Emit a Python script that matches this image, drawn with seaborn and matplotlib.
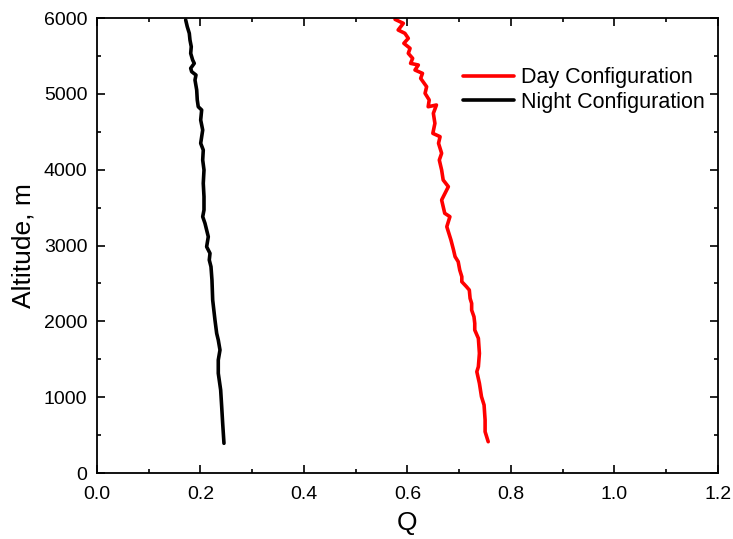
import matplotlib
matplotlib.use("Agg")
import matplotlib.pyplot as plt
import seaborn as sns
import pandas as pd
from matplotlib.ticker import MultipleLocator

# Day configuration (Q vs altitude, m), read from bottom to top
day_alt = [413, 545, 699, 897, 1007, 1183, 1336, 1402, 1578, 1776, 1886, 1974, 2061, 2149,
           2237, 2303, 2413, 2457, 2523, 2589, 2677, 2787, 2853, 2941, 3073, 3248, 3380,
           3425, 3600, 3776, 3864, 3996, 4127, 4216, 4348, 4435, 4479, 4611, 4743, 4853,
           4830, 4919, 5007, 5094, 5204, 5270, 5314, 5380, 5402, 5468, 5534, 5600, 5666,
           5732, 5798, 5842, 5930, 5982]
day_q = [0.756, 0.750, 0.750, 0.748, 0.743, 0.739, 0.734, 0.737, 0.739, 0.737, 0.730, 0.730,
         0.7285, 0.724, 0.724, 0.721, 0.7195, 0.714, 0.705, 0.705, 0.701, 0.698, 0.692,
         0.689, 0.684, 0.676, 0.682, 0.672, 0.666, 0.679, 0.669, 0.666, 0.6615, 0.666,
         0.660, 0.663, 0.649, 0.653, 0.650, 0.656, 0.640, 0.642, 0.634, 0.637, 0.6255,
         0.629, 0.6145, 0.621, 0.606, 0.610, 0.6016, 0.605, 0.593, 0.6016, 0.595, 0.582,
         0.592, 0.576]

# Night configuration
night_alt = [392, 655, 874, 1095, 1315, 1490, 1622, 1754, 1842, 2018, 2281, 2545, 2721,
             2809, 2897, 2984, 3116, 3293, 3380, 3468, 3644, 3820, 3996, 4127, 4259, 4348,
             4523, 4655, 4787, 4830, 4919, 5051, 5182, 5248, 5292, 5337, 5402, 5446, 5534,
             5622, 5710, 5798, 5885, 5974]
night_q = [0.2454, 0.2429, 0.2410, 0.2390, 0.2344, 0.2344, 0.2377, 0.2344, 0.2313, 0.2280,
           0.2236, 0.2222, 0.2203, 0.2170, 0.2184, 0.2119, 0.2151, 0.2087, 0.2043, 0.2068,
           0.2068, 0.2054, 0.2068, 0.2043, 0.2054, 0.2004, 0.2043, 0.2004, 0.2023, 0.1957,
           0.1938, 0.1927, 0.1894, 0.1913, 0.1830, 0.1811, 0.1880, 0.1849, 0.1811, 0.1822,
           0.1797, 0.1784, 0.1745, 0.1714]

series_names = ["Day Configuration", "Night Configuration"]

df = pd.concat([
    pd.DataFrame({"Q": day_q, "alt": day_alt, "series": series_names[0]}),
    pd.DataFrame({"Q": night_q, "alt": night_alt, "series": series_names[1]}),
], ignore_index=True)

sns.set_style("ticks")
plt.rcParams["font.family"] = ["Liberation Sans", "DejaVu Sans"]
plt.rcParams["text.color"] = "black"
plt.rcParams["axes.labelcolor"] = "black"
plt.rcParams["xtick.color"] = "black"
plt.rcParams["ytick.color"] = "black"

fig = plt.figure(figsize=(7.33, 5.39), dpi=100)
ax = fig.add_axes([0.1323, 0.1224, 0.9795 - 0.1323, 0.9666 - 0.1224])

sns.lineplot(data=df, x="Q", y="alt", hue="series", sort=False, estimator=None,
             palette={series_names[0]: "#ff0000", series_names[1]: "#000000"},
             linewidth=2.6, ax=ax)

ax.set_xlim(0, 1.2)
ax.set_ylim(0, 6000)
ax.xaxis.set_major_locator(MultipleLocator(0.2))
ax.xaxis.set_minor_locator(MultipleLocator(0.1))
ax.yaxis.set_major_locator(MultipleLocator(1000))
ax.yaxis.set_minor_locator(MultipleLocator(500))
ax.set_xticks(ax.get_xticks())
ax.set_xticklabels([f"{v:.1f}" for v in ax.get_xticks()])
ax.set_xlim(0, 1.2)
ax.tick_params(which="both", direction="in", top=True, right=True, width=1.2,
               colors="black", labelcolor="black")
ax.tick_params(which="major", length=6, labelsize=14)
ax.tick_params(axis="x", which="major", pad=9)
ax.tick_params(axis="y", which="major", pad=7)
ax.tick_params(which="minor", length=3)
for s in ax.spines.values():
    s.set_linewidth(1.3)
    s.set_color("black")

ax.set_xlabel("Q", fontsize=19, labelpad=6, color="black")
ax.set_ylabel("Altitude, m", fontsize=19, labelpad=6, color="black")

leg = ax.legend(loc="upper right", bbox_to_anchor=(1.0, 0.92), frameon=False, fontsize=15.5,
                handlelength=2.4, handletextpad=0.33, labelspacing=0.15, borderaxespad=0.2)
for line in leg.get_lines():
    line.set_linewidth(2.6)
for t in leg.get_texts():
    t.set_color("black")

fig.savefig("out.png", dpi=100)
